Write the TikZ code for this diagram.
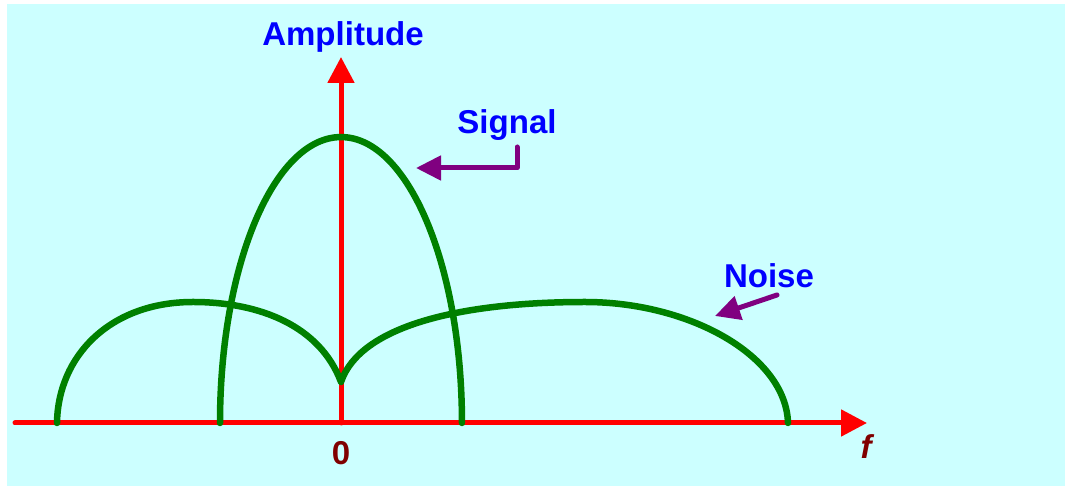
\documentclass[tikz,border=0pt]{standalone}
\usepackage{fontspec}
\setmainfont{Liberation Sans}
\usetikzlibrary{arrows.meta}
\definecolor{bgcyan}{HTML}{CCFFFF}
\definecolor{curvegreen}{HTML}{008000}
\definecolor{pointer}{HTML}{800080}
\definecolor{axislabel}{HTML}{800000}
\tikzset{
  axis/.style={red, line width=0.1cm, line cap=round, -{Triangle[length=0.52cm,width=0.52cm]}},
  spectrum/.style={curvegreen, line width=0.13cm, line cap=round, line join=round},
  pointerarrow/.style={pointer, line width=0.1cm, line cap=round, line join=round, -{Triangle[length=0.5cm,width=0.48cm]}},
  title/.style={blue, font=\fontsize{18.8}{22}\selectfont\bfseries},
  tick/.style={axislabel, font=\fontsize{18.8}{22}\selectfont\bfseries}
}
\begin{document}
\begin{tikzpicture}[x=0.02cm, y=0.02cm]
    \useasboundingbox (0,0) rectangle (1065,486);
    \fill[bgcyan] (7,-10) rectangle (1075,482);
    \coordinate (origin) at (341,63);
    \coordinate (xstart) at (15,63);
    \coordinate (xend) at (867,63);
    \coordinate (yend) at (341,429);
    \draw[axis] (xstart) -- (xend);
    \draw[axis] (origin) -- (yend);
    \draw[spectrum] (57,63) .. controls (58,130) and (110,184) .. (193,184)
        .. controls (260,184) and (320,160) .. (341,104)
        .. controls (360,160) and (460,184) .. (585,184)
        .. controls (690,184) and (786,130) .. (788,63);
    \draw[spectrum] (220,63) arc[start angle=180, end angle=0, x radius=2.42cm, y radius=5.72cm];
    \node[title] (amp) at (343,449) {Amplitude};
    \node[title] (sig) at (507,361) {Signal};
    \node[title] (noise) at (769,210) {Noise};
    \node[tick] (zero) at (341,33) {0};
    \node[tick] (freq) at (866,39) {\itshape f};
    \coordinate (sigstart) at (517,339);
    \coordinate (sigtip) at (416,318);
    \coordinate (noisestart) at (777,191);
    \coordinate (noisetip) at (715,170);
    \draw[pointerarrow] (sigstart) |- (sigtip);
    \draw[pointerarrow] (noisestart) -- (noisetip);
\end{tikzpicture}
\end{document}
